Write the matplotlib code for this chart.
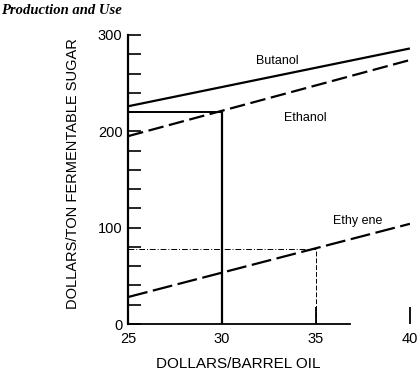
import matplotlib.pyplot as plt
from matplotlib.ticker import MultipleLocator

# oil price, $/barrel
oil = [25, 40]
butanol = [226, 286]
ethanol = [195, 274]
ethylene = [28, 104]

# read-off guides
ethanol_pt = (30, 220)
ethylene_pt = (35, 78)

plt.rcParams['font.family'] = ['Liberation Sans', 'DejaVu Sans']

fig = plt.figure(figsize=(4.2, 3.72), dpi=100)
ax = fig.add_axes([0.305, 0.129, 0.671, 0.777])

ax.plot(oil, butanol, color='black', lw=1.6, solid_capstyle='butt')
ax.plot(oil, ethanol, color='black', lw=1.6, dashes=(7, 2.5))
ax.plot(oil, ethylene, color='black', lw=1.6, dashes=(9, 2.5))

# ethanol read-off at $30
ax.plot([25, ethanol_pt[0]], [ethanol_pt[1]] * 2, color='black', lw=1.4)
ax.plot([ethanol_pt[0]] * 2, [0, ethanol_pt[1]], color='black', lw=1.6)
# ethylene read-off at $35
ax.plot([25, ethylene_pt[0]], [ethylene_pt[1]] * 2, color='black', lw=0.7,
        dashes=(6, 2, 1, 2))
ax.plot([ethylene_pt[0]] * 2, [0, ethylene_pt[1]], color='black', lw=0.7,
        dashes=(5, 2))

ax.text(31.8, 270, 'Butanol', fontsize=9)
ax.text(33.3, 211, 'Ethanol', fontsize=9)
ax.text(35.9, 104, 'Ethy ene', fontsize=9)

ax.set_xlim(25, 40)
ax.set_ylim(0, 300)
ax.spines['top'].set_visible(False)
ax.spines['right'].set_visible(False)
ax.spines['left'].set_linewidth(1.6)
ax.spines['bottom'].set_linewidth(1.3)
ax.spines['bottom'].set_bounds(25, 36.8)

ax.set_xticks([25, 30, 35, 40])
ax.set_yticks([0, 100, 200, 300])
ax.yaxis.set_minor_locator(MultipleLocator(20))
ax.tick_params(axis='y', which='both', direction='in', length=9, width=1.2,
               labelsize=10.5, pad=4)
ax.tick_params(axis='x', direction='in', length=12, width=1.3,
               labelsize=10.5, pad=6)

ax.set_ylabel('DOLLARS/TON FERMENTABLE SUGAR', fontsize=10.5)
ax.yaxis.set_label_coords(-0.17, 0.52)
ax.set_xlabel('DOLLARS/BARREL OIL', fontsize=11)
ax.xaxis.set_label_coords(0.39, -0.115)

fig.text(0.002, 0.972, 'Production and Use', fontsize=10.5, family='Liberation Serif',
         style='italic', weight='bold', va='center')

fig.savefig('out.png', dpi=100)
